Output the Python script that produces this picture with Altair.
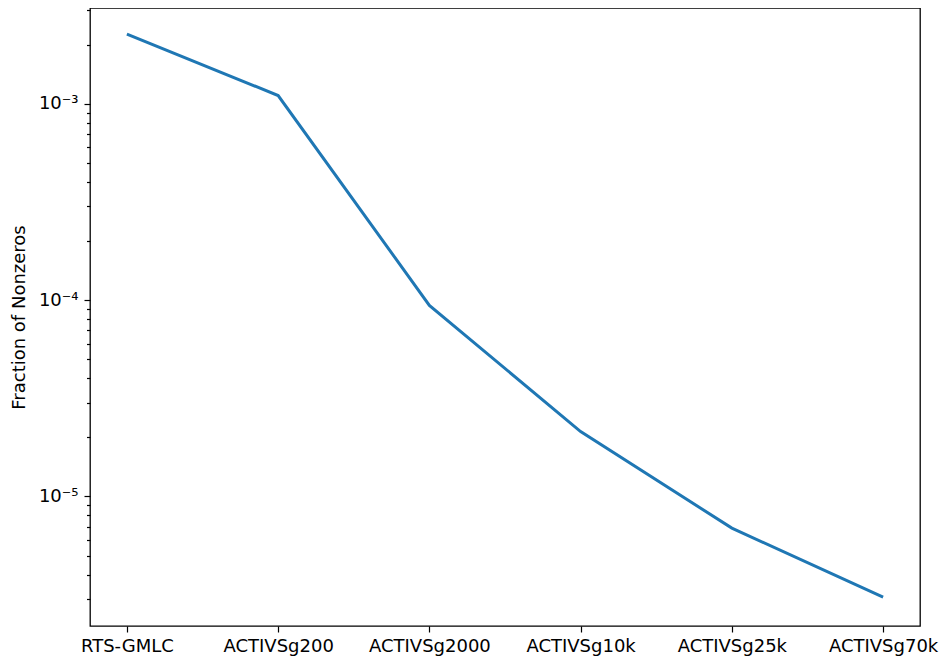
import altair as alt
import pandas as pd

cases = ["RTS-GMLC", "ACTIVSg200", "ACTIVSg2000", "ACTIVSg10k", "ACTIVSg25k", "ACTIVSg70k"]
fraction_nonzeros = [2.26e-3, 1.10e-3, 9.4e-5, 2.14e-5, 6.9e-6, 3.07e-6]

major_ticks = [1e-3, 1e-4, 1e-5]
minor_ticks = [m * 10.0 ** e for e in (-6, -5, -4, -3) for m in range(2, 10)]
y_ticks = sorted([v for v in major_ticks + minor_ticks if 2.15e-6 <= v <= 3.1e-3])

df = pd.DataFrame({"case": cases, "frac": fraction_nonzeros})

is_major = "abs(log(datum.value)/LN10 - round(log(datum.value)/LN10)) < 0.001"
label_expr = (
    f"({is_major}) ? ('10' + (round(log(datum.value)/LN10) == -3 ? '⁻³' : "
    "(round(log(datum.value)/LN10) == -4 ? '⁻⁴' : '⁻⁵'))) : ''"
)

chart = alt.Chart(df).mark_line(color="#1f77b4", strokeWidth=3).encode(
    x=alt.X(
        "case:N",
        sort=cases,
        scale=alt.Scale(type="point", padding=0.244),
        axis=alt.Axis(
            title=None,
            labelAngle=0,
            labelFont="DejaVu Sans",
            labelFontSize=18,
            labelColor="black",
            labelPadding=5,
            tickSize=6,
            tickWidth=1.2,
            tickColor="black",
            domain=False,
            grid=False,
        ),
    ),
    y=alt.Y(
        "frac:Q",
        scale=alt.Scale(type="log", domain=[2.19e-6, 3.07e-3], nice=False),
        axis=alt.Axis(
            title="Fraction of Nonzeros",
            titleFont="DejaVu Sans",
            titleFontSize=18,
            titleFontWeight="normal",
            titleColor="black",
            titlePadding=10,
            values=y_ticks,
            labelExpr=label_expr,
            labelFont="DejaVu Sans",
            labelFontSize=18,
            labelColor="black",
            labelPadding=6,
            tickSize={"condition": {"test": is_major, "value": 6}, "value": 3.5},
            tickWidth=1.2,
            tickColor="black",
            domain=False,
            grid=False,
        ),
    ),
).properties(
    width=830,
    height=618,
    autosize=alt.AutoSizeParams(type="none"),
    padding={"left": 82, "top": 0, "right": 20, "bottom": 33},
).configure_view(
    stroke="black", strokeWidth=1.3
)

chart.save("out.html", embed_options={"renderer": "svg", "actions": False})
